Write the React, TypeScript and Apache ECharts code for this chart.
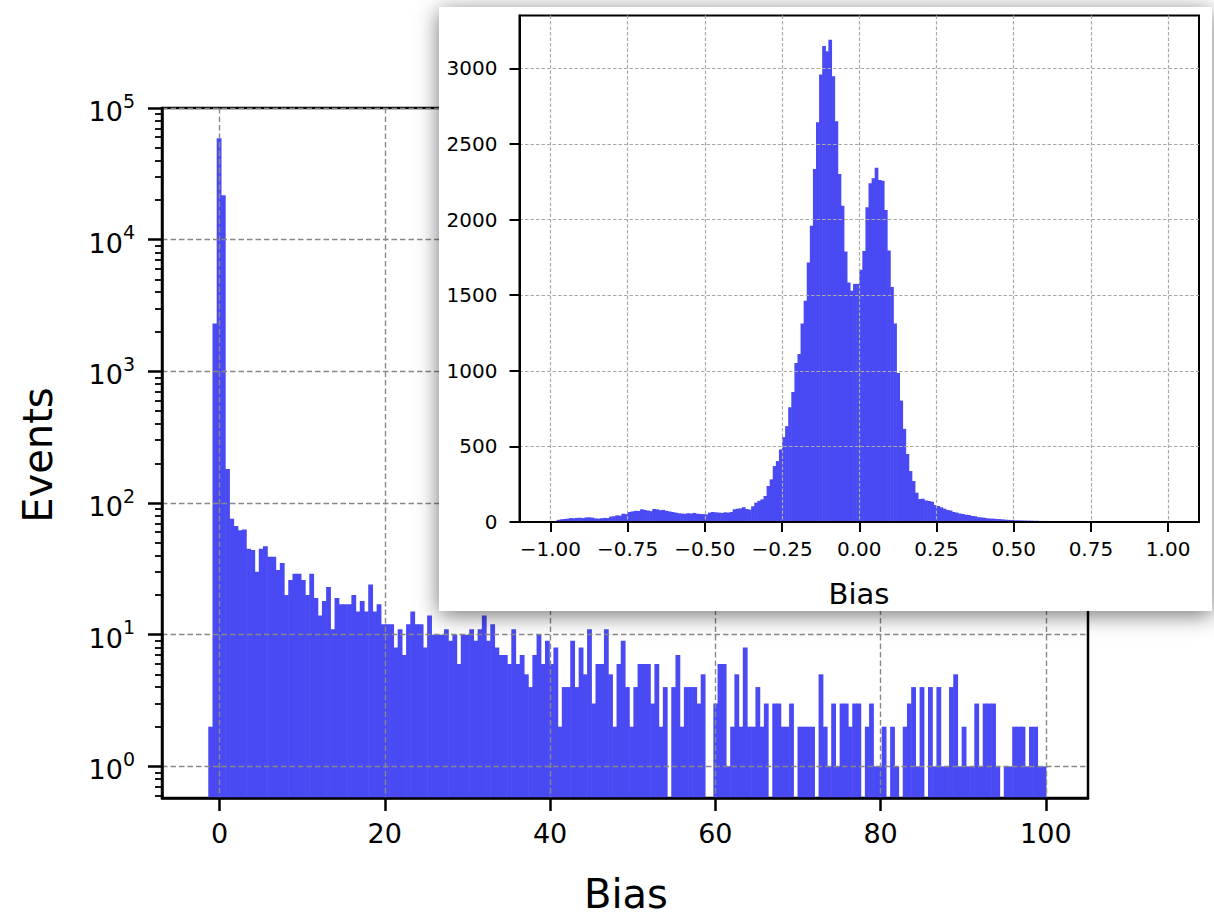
import React, { useEffect, useRef } from "react";
import * as echarts from "echarts";

// ---------- Main histogram (log scale), 200 bins ----------
const MAIN_BIN_START = -1.87;
const MAIN_BIN_WIDTH = 0.50935;
const MAIN_COUNTS: number[] = [
  0, 2, 2313, 58900, 21700, 181, 76, 67, 62, 63,
  45, 44, 30, 45, 47, 39, 39, 31, 35, 20,
  26, 29, 29, 26, 20, 29, 19, 14, 18, 23,
  11, 19, 17, 17, 17, 20, 15, 18, 15, 24,
  15, 17, 12, 12, 12, 8, 11, 7, 12, 15,
  12, 12, 8, 14, 10, 10, 10, 11, 9, 10,
  6, 10, 10, 11, 9, 11, 14, 9, 12, 8,
  7, 7, 6, 11, 6, 7, 5, 4, 7, 10,
  6, 9, 6, 8, 2, 4, 4, 9, 4, 8,
  5, 11, 3, 6, 6, 11, 5, 2, 6, 9,
  4, 2, 4, 6, 6, 6, 3, 6, 2, 4,
  0, 4, 7, 2, 4, 4, 4, 3, 5, 0,
  0, 3, 6, 6, 1, 2, 5, 2, 8, 2,
  2, 4, 2, 3, 0, 3, 3, 2, 2, 3,
  0, 2, 2, 2, 2, 0, 5, 2, 1, 3,
  1, 3, 3, 2, 3, 3, 0, 2, 3, 1,
  1, 2, 0, 2, 1, 0, 2, 3, 4, 1,
  4, 0, 4, 1, 4, 1, 1, 4, 5, 1,
  2, 1, 1, 3, 1, 3, 3, 3, 1, 0,
  1, 1, 2, 2, 2, 1, 2, 2, 1, 1,
];
const MAIN_X_TICKS = [0, 20, 40, 60, 80, 100];
const MAIN_Y_TICKS = [1, 10, 100, 1000, 10000, 100000];
const MAIN_Y_MINOR = [
  0.6, 0.7, 0.8, 0.9,
  2, 3, 4, 5, 6, 7, 8, 9,
  20, 30, 40, 50, 60, 70, 80, 90,
  200, 300, 400, 500, 600, 700, 800, 900,
  2000, 3000, 4000, 5000, 6000, 7000, 8000, 9000,
  20000, 30000, 40000, 50000, 60000, 70000, 80000, 90000,
];

// ---------- Inset histogram (linear), 200 bins from -1 to 1 ----------
const INSET_BIN_START = -1;
const INSET_BIN_WIDTH = 0.01;
const INSET_COUNTS: number[] = [
  // -1.00 .. -0.91
  0, 0, 14, 18, 20, 22, 26, 25, 27, 28,
  // -0.90 .. -0.81
  26, 30, 31, 29, 24, 22, 25, 27, 26, 36,
  // -0.80 .. -0.71
  38, 44, 42, 55, 52, 66, 70, 74, 73, 84,
  // -0.70 .. -0.61
  80, 76, 72, 86, 84, 78, 80, 74, 70, 66,
  // -0.60 .. -0.51
  62, 58, 56, 54, 58, 56, 60, 55, 53, 52,
  // -0.50 .. -0.41
  50, 62, 66, 64, 62, 60, 64, 62, 66, 84,
  // -0.40 .. -0.31
  88, 90, 98, 86, 82, 104, 128, 140, 150, 172,
  // -0.30 .. -0.21
  238, 282, 370, 403, 480, 561, 634, 759, 860, 1052,
  // -0.20 .. -0.11
  1111, 1313, 1463, 1716, 1960, 2334, 2644, 2959, 3148, 3113,
  // -0.10 .. -0.01
  3190, 2948, 2651, 2301, 2092, 1789, 1584, 1529, 1575, 1575,
  // 0.00 .. 0.09
  1668, 1793, 2081, 2240, 2273, 2343, 2262, 2257, 2064, 1795,
  // 0.10 .. 0.19
  1555, 1313, 986, 803, 616, 450, 337, 271, 194, 152,
  // 0.20 .. 0.29
  154, 143, 139, 134, 112, 106, 97, 88, 80, 76,
  // 0.30 .. 0.39
  66, 62, 56, 53, 48, 46, 40, 38, 32, 30,
  // 0.40 .. 0.49
  28, 24, 23, 22, 20, 19, 17, 15, 14, 13,
  // 0.50 .. 0.59
  11, 11, 10, 10, 9, 9, 8, 8, 7, 7,
  // 0.60 .. 0.69
  7, 6, 6, 6, 5, 5, 5, 4, 4, 5,
  // 0.70 .. 0.79
  4, 3, 3, 3, 3, 3, 2, 2, 2, 3,
  // 0.80 .. 0.89
  2, 2, 2, 2, 2, 2, 2, 4, 2, 1,
  // 0.90 .. 0.99
  1, 1, 1, 1, 1, 1, 1, 1, 1, 1,
];
const INSET_X_TICKS = [-1, -0.75, -0.5, -0.25, 0, 0.25, 0.5, 0.75, 1];
const INSET_Y_TICKS = [0, 500, 1000, 1500, 2000, 2500, 3000];

const BAR_COLOR = "rgb(74,74,244)";
const FONT = "DejaVu Sans";

function binData(start: number, width: number, counts: number[]) {
  const out: number[][] = [];
  counts.forEach((c, i) => {
    if (c > 0) out.push([start + i * width, start + (i + 1) * width, c]);
  });
  return out;
}

function histRenderItem(params: any, api: any) {
  const x0 = api.value(0);
  const x1 = api.value(1);
  const c = api.value(2);
  const p0 = api.coord([x0, c]);
  const p1 = api.coord([x1, c]);
  const bottom = params.coordSys.y + params.coordSys.height;
  return {
    type: "rect",
    shape: { x: p0[0], y: p0[1], width: p1[0] - p0[0] + 0.6, height: bottom - p0[1] },
    style: { fill: BAR_COLOR },
  };
}

export default function App() {
  const ref = useRef<HTMLDivElement>(null);

  useEffect(() => {
    if (!ref.current) return;
    const chart = echarts.init(ref.current, undefined, { renderer: "svg" });

    const mainGrid = { left: 162, top: 108, width: 926, height: 690 };
    const insetGrid = { left: 519.5, top: 15.5, width: 679.5, height: 506.5 };

    const option: any = {
      animation: false,
      backgroundColor: "#ffffff",
      textStyle: { fontFamily: FONT },
      grid: [
        {
          ...mainGrid,
          show: true,
          borderColor: "#000",
          borderWidth: 2.5,
          backgroundColor: "transparent",
          z: 0,
        },
        {
          ...insetGrid,
          show: true,
          borderColor: "#000",
          borderWidth: 2,
          backgroundColor: "transparent",
          z: 6,
        },
      ],
      xAxis: [
        {
          type: "value",
          gridIndex: 0,
          min: -6.96,
          max: 105.1,
          z: 3,
          axisLine: { show: true, onZero: false, lineStyle: { color: "#000", width: 2.5 } },
          axisTick: {
            show: true,
            customValues: MAIN_X_TICKS,
            length: 13,
            lineStyle: { color: "#000", width: 2.5 },
          },
          axisLabel: {
            customValues: MAIN_X_TICKS,
            fontSize: 27,
            fontFamily: FONT,
            color: "#000",
            margin: 22,
          },
          splitLine: {
            show: true,
            lineStyle: { color: "#888", width: 1.4, type: [5.5, 3] },
          },
        },
        {
          type: "value",
          gridIndex: 1,
          min: -1.1,
          max: 1.1,
          z: 8,
          axisLine: { show: true, onZero: false, lineStyle: { color: "#000", width: 2 } },
          axisTick: {
            show: true,
            customValues: INSET_X_TICKS,
            length: 10,
            lineStyle: { color: "#000", width: 2 },
          },
          axisLabel: {
            customValues: INSET_X_TICKS,
            fontSize: 20,
            fontFamily: FONT,
            color: "#000",
            margin: 17,
            formatter: (v: number) => (v < 0 ? "\u2212" : "") + Math.abs(v).toFixed(2),
          },
          splitLine: {
            show: true,
            lineStyle: { color: "#aaa", width: 1.2, type: [3.5, 2] },
          },
        },
      ],
      yAxis: [
        {
          type: "log",
          logBase: 10,
          gridIndex: 0,
          min: 0.575,
          max: 100000,
          z: 3,
          axisLine: { show: true, onZero: false, lineStyle: { color: "#000", width: 2.5 } },
          axisTick: {
            show: true,
            customValues: MAIN_Y_TICKS,
            length: 14,
            lineStyle: { color: "#000", width: 2.5 },
          },
          axisLabel: {
            customValues: MAIN_Y_TICKS,
            color: "#000",
            margin: 27,
            formatter: (v: number) => `{a|10}{b|${Math.round(Math.log10(v))}}`,
            rich: {
              a: { fontSize: 27, fontFamily: FONT, color: "#000", lineHeight: 34, verticalAlign: "bottom" },
              b: { fontSize: 19, fontFamily: FONT, color: "#000", lineHeight: 20, verticalAlign: "top" },
            },
          },
          splitLine: {
            show: true,
            lineStyle: { color: "#888", width: 1.4, type: [5.5, 3] },
          },
        },
        {
          type: "log",
          logBase: 10,
          gridIndex: 0,
          min: 0.575,
          max: 100000,
          z: 3,
          position: "left",
          axisLine: { show: false, onZero: false },
          axisTick: {
            show: true,
            customValues: MAIN_Y_MINOR,
            length: 7,
            lineStyle: { color: "#000", width: 1.8 },
          },
          axisLabel: { show: false },
          splitLine: { show: false },
        },
        {
          type: "value",
          gridIndex: 1,
          min: 0,
          max: 3350,
          z: 8,
          axisLine: { show: true, onZero: false, lineStyle: { color: "#000", width: 2 } },
          axisTick: {
            show: true,
            customValues: INSET_Y_TICKS,
            length: 10,
            lineStyle: { color: "#000", width: 2 },
          },
          axisLabel: {
            customValues: INSET_Y_TICKS,
            fontSize: 20,
            fontFamily: FONT,
            color: "#000",
            margin: 22,
            formatter: (v: number) => String(v),
          },
          splitLine: {
            show: true,
            lineStyle: { color: "#aaa", width: 1.2, type: [3.5, 2] },
          },
        },
      ],
      graphic: [
        {
          type: "rect",
          z: 5,
          shape: { x: 439, y: 7, width: 773, height: 604 },
          style: {
            fill: "#fff",
            shadowBlur: 22,
            shadowColor: "rgba(0,0,0,0.55)",
            shadowOffsetX: 0,
            shadowOffsetY: 4,
          },
        },
        {
          type: "text",
          z: 9,
          x: 859,
          y: 594,
          style: {
            text: "Bias",
            fontSize: 29,
            fontFamily: FONT,
            fill: "#000",
            textAlign: "center",
            textVerticalAlign: "middle",
          },
        },
        {
          type: "text",
          z: 4,
          x: 626,
          y: 894,
          style: {
            text: "Bias",
            fontSize: 40,
            fontFamily: FONT,
            fill: "#000",
            textAlign: "center",
            textVerticalAlign: "middle",
          },
        },
        {
          type: "text",
          z: 4,
          x: 38,
          y: 455,
          rotation: Math.PI / 2,
          style: {
            text: "Events",
            fontSize: 40,
            fontFamily: FONT,
            fill: "#000",
            textAlign: "center",
            textVerticalAlign: "middle",
          },
        },
      ],
      series: [
        {
          type: "custom",
          name: "main",
          xAxisIndex: 0,
          yAxisIndex: 0,
          z: 2,
          renderItem: histRenderItem,
          encode: { x: [0, 1], y: 2 },
          data: binData(MAIN_BIN_START, MAIN_BIN_WIDTH, MAIN_COUNTS),
        },
        {
          type: "custom",
          name: "inset",
          xAxisIndex: 1,
          yAxisIndex: 2,
          z: 7,
          renderItem: histRenderItem,
          encode: { x: [0, 1], y: 2 },
          data: binData(INSET_BIN_START, INSET_BIN_WIDTH, INSET_COUNTS),
        },
      ],
    };

    chart.setOption(option);
    return () => chart.dispose();
  }, []);

  return (
    <div
      ref={ref}
      style={{ position: "fixed", left: 0, top: 0, width: 1214, height: 916, background: "#fff" }}
    />
  );
}
